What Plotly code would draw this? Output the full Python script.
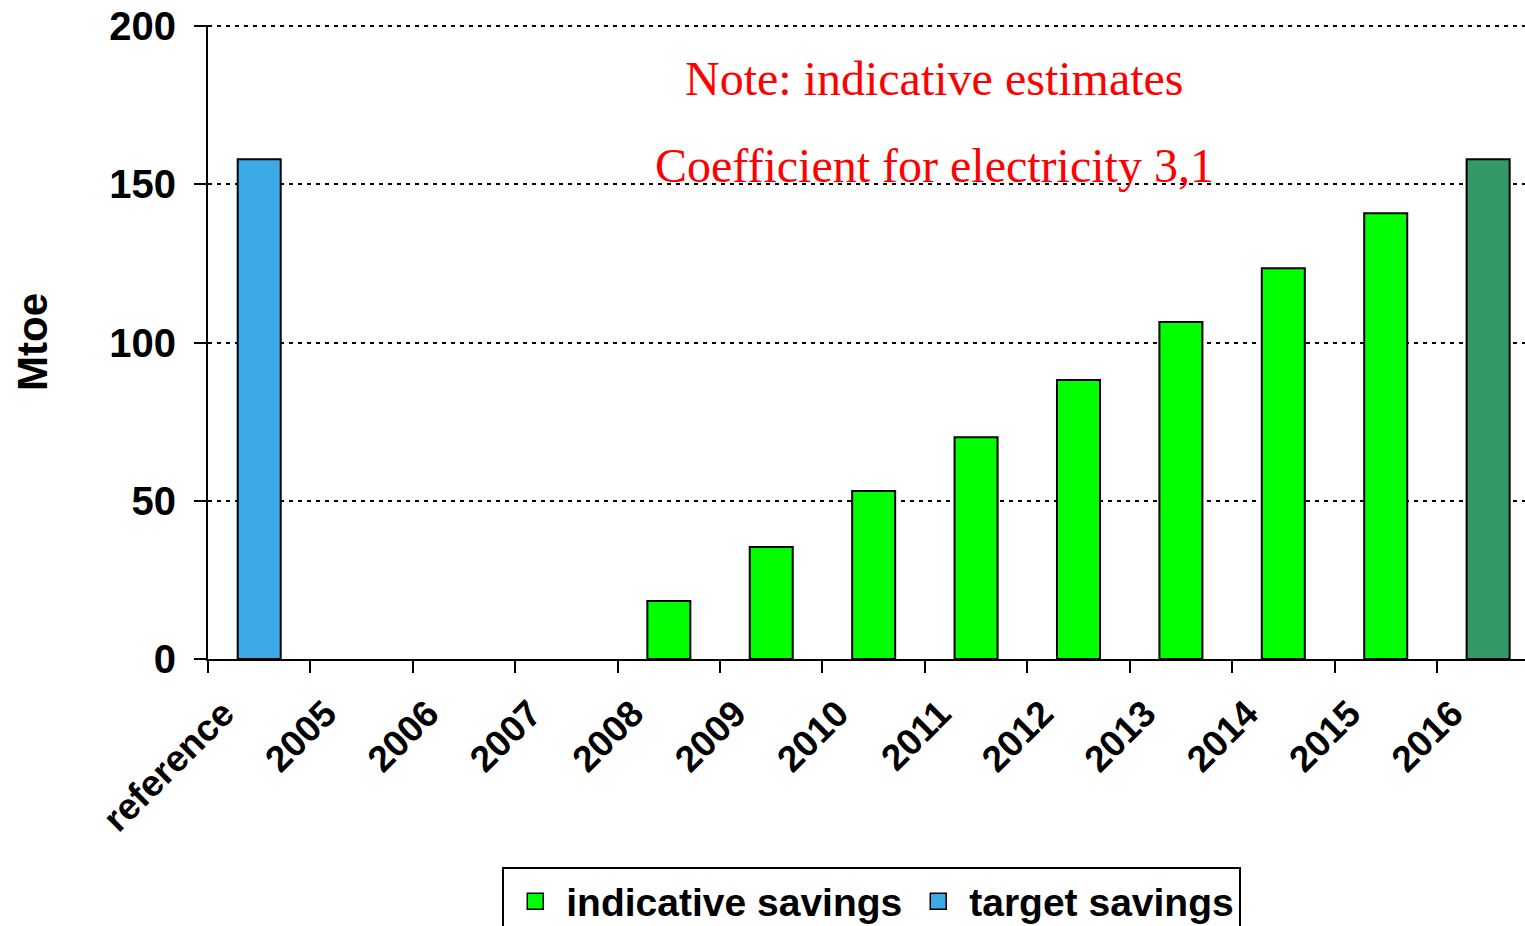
import plotly.graph_objects as go

categories = ["reference", "2005", "2006", "2007", "2008", "2009", "2010",
              "2011", "2012", "2013", "2014", "2015", "2016"]
indicative_savings = [None, None, None, None, 18.3, 35.4, 53.1, 70.1,
                      88.2, 106.5, 123.5, 140.9, None]
target_savings = [158, None, None, None, None, None, None, None,
                  None, None, None, None, 158]
y_ticks = [0, 50, 100, 150, 200]

BLUE = "#3DAAE8"
GREEN = "#00FF00"
DARK_GREEN = "#339966"
target_colors = [DARK_GREEN if c == "2016" else BLUE for c in categories]

SANS = "Liberation Sans, Arial, sans-serif"
SERIF = "Liberation Serif, Times New Roman, serif"

fig = go.Figure()
fig.add_trace(go.Bar(
    x=categories, y=indicative_savings, name="indicative savings",
    width=0.42, showlegend=False,
    marker=dict(color=GREEN, line=dict(color="black", width=2)),
))
fig.add_trace(go.Bar(
    x=categories, y=target_savings, name="target savings",
    width=0.42, showlegend=False,
    marker=dict(color=target_colors, line=dict(color="black", width=2)),
))
# legend entries (square swatches like the original)
for nm, col in [("indicative savings", GREEN), ("target savings", BLUE)]:
    fig.add_trace(go.Scatter(
        x=[None], y=[None], mode="markers", name=nm, showlegend=True,
        marker=dict(symbol="square", size=22, color=col,
                    line=dict(color="black", width=1.5)),
    ))

fig.update_layout(
    width=1525, height=926,
    margin=dict(l=208, r=0, t=25, b=267, autoexpand=False),
    paper_bgcolor="white", plot_bgcolor="white",
    barmode="overlay",
    font=dict(family=SANS, color="black"),
    showlegend=True,
    legend=dict(
        orientation="h", x=0.504, xanchor="center", y=-0.3286, yanchor="top",
        bordercolor="black", borderwidth=2, itemsizing="trace", itemwidth=52,
        font=dict(family=SANS, size=39, weight="bold", color="black"),
        traceorder="normal",
    ),
)

fig.update_xaxes(
    type="category", range=[-0.5, 12.36], automargin=False,
    tickson="boundaries", ticks="outside", ticklen=12, tickwidth=2, tickcolor="black",
    showline=True, linecolor="black", linewidth=2,
    showgrid=False, tickangle=-45,
    ticklabelshift=-36, ticklabelstandoff=16,
    tickfont=dict(family=SANS, size=37, weight="bold", color="black"),
)
fig.update_yaxes(
    range=[0, 200.4], tickvals=y_ticks, automargin=False,
    ticks="outside", ticklen=12, tickwidth=2, tickcolor="black",
    ticklabelstandoff=10,
    showline=True, linecolor="black", linewidth=2,
    showgrid=True, gridcolor="black", gridwidth=2, griddash="4px,5px",
    zeroline=False,
    tickfont=dict(family=SANS, size=40, weight="bold", color="black"),
    title=dict(text="Mtoe", standoff=49,
               font=dict(family=SANS, size=42, weight="bold", color="black")),
)

fig.add_annotation(
    text="Note: indicative estimates", xref="paper", yref="paper",
    x=0.552, y=0.916, xanchor="center", yanchor="middle", showarrow=False,
    font=dict(family=SERIF, size=48, color="red"),
)
fig.add_annotation(
    text="Coefficient for electricity 3,1", xref="paper", yref="paper",
    x=0.552, y=0.779, xanchor="center", yanchor="middle", showarrow=False,
    font=dict(family=SERIF, size=48, color="red"),
)

fig.write_html(
    "out.html",
    config={"displayModeBar": False},
    post_script="document.body.style.margin='0';document.body.style.padding='0';"
                "document.documentElement.style.overflow='hidden';",
)
